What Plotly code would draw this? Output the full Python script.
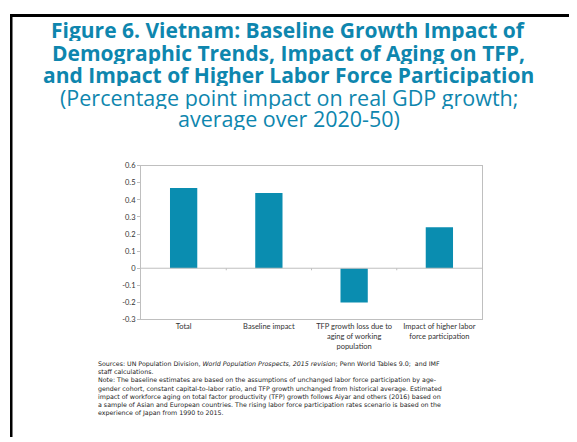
import plotly.graph_objects as go

categories = ["Total", "Baseline impact",
              "TFP growth loss due to<br>aging of working<br>population",
              "Impact of higher labor<br>force participation"]
impact = [0.47, 0.44, -0.20, 0.24]
y_ticks = [-0.3, -0.2, -0.1, 0, 0.1, 0.2, 0.3, 0.4, 0.5, 0.6]
y_labels = ["-0.3", "-0.2", "-0.1", "0", "0.1", "0.2", "0.3", "0.4", "0.5", "0.6"]

title_lines = ["Figure 6. Vietnam: Baseline Growth Impact of",
               "Demographic Trends, Impact of Aging on TFP,",
               "and Impact of Higher Labor Force Participation"]
subtitle_lines = ["(Percentage point impact on real GDP growth;",
                  "average over 2020-50)"]

W, H = 577, 442
OFF = 8  # page body margin; the figure is shrunk so the page does not overflow
FW, FH = W - OFF, H - OFF

def px(x):
    return (x - OFF) / FW

def py(y):
    return 1 - (y - OFF) / FH

teal = "#0E86AE"
bar_col = "#0A8DB0"
grey = "#BFBFBF"

fig = go.Figure(go.Bar(x=categories, y=impact, marker_color=bar_col,
                       marker_line_width=0, width=0.32, hoverinfo="skip"))

# small ticks on the zero line between categories
for b in [0.5, 1.5, 2.5]:
    fig.add_shape(type="line", x0=b, x1=b, y0=0, y1=-0.012, xref="x", yref="y",
                  line=dict(color=grey, width=1))
fig.add_hline(y=0, line=dict(color=grey, width=1))

# title, one annotation per line to get the tight leading
for txt, yy in zip(title_lines, [26, 49, 71.5]):
    fig.add_annotation(text="<b>" + txt + "</b>", xref="paper", yref="paper", x=px(288.5), y=py(yy),
                       xanchor="center", yanchor="middle", showarrow=False, height=23,
                       font=dict(family="Open Sans", size=21, color=teal))
for txt, yy in zip(subtitle_lines, [95, 117]):
    fig.add_annotation(text=txt, xref="paper", yref="paper", x=px(288.5), y=py(yy),
                       xanchor="center", yanchor="middle", showarrow=False, height=23,
                       font=dict(family="Open Sans", size=21.5, color=teal))

note = ("Sources: UN Population Division, <i>World Population Prospects, 2015 revision</i>; Penn World Tables 9.0;  and IMF<br>"
        "staff calculations.<br>"
        "Note: The baseline estimates are based on the assumptions of unchanged labor force participation by age-<br>"
        "gender cohort, constant capital-to-labor ratio, and TFP growth unchanged from historical average. Estimated<br>"
        "impact of workforce aging on total factor productivity (TFP) growth follows Aiyar and others (2016) based on<br>"
        "a sample of Asian and European countries. The rising labor force participation rates scenario is based on the<br>"
        "experience of Japan from 1990 to 2015.")
fig.add_annotation(text=note, xref="paper", yref="paper", x=px(96), y=py(361),
                   xanchor="left", yanchor="top", align="left", showarrow=False,
                   font=dict(family="DejaVu Sans", size=6.3, color="#222222"))

# black frame on left and top, drawn as filled strips
fig.add_shape(type="rect", xref="paper", yref="paper", x0=px(10), x1=px(12.5), y0=0, y1=py(10),
              line_width=0, fillcolor="black", layer="above")
fig.add_shape(type="rect", xref="paper", yref="paper", x0=px(10), x1=1, y0=py(13), y1=py(10),
              line_width=0, fillcolor="black", layer="above")

fig.update_layout(
    width=FW, height=FH,
    margin=dict(l=0, r=0, t=0, b=0),
    paper_bgcolor="white", plot_bgcolor="white",
    showlegend=False, hovermode=False,
    font=dict(family="Lato", size=8, color="#333333"),
    xaxis=dict(domain=[px(141), px(482)], showline=True, mirror=True, linecolor=grey,
               ticks="", tickfont=dict(size=7.5), fixedrange=True),
    yaxis=dict(domain=[py(322), py(165)], range=[-0.3, 0.6], tickvals=y_ticks,
               ticktext=y_labels, showline=True, mirror=True, linecolor=grey, showgrid=False,
               zeroline=False, ticks="outside", ticklen=3, tickcolor=grey, tickfont=dict(size=7.5),
               fixedrange=True),
)

fig.write_html("out.html", config={"displayModeBar": False})
